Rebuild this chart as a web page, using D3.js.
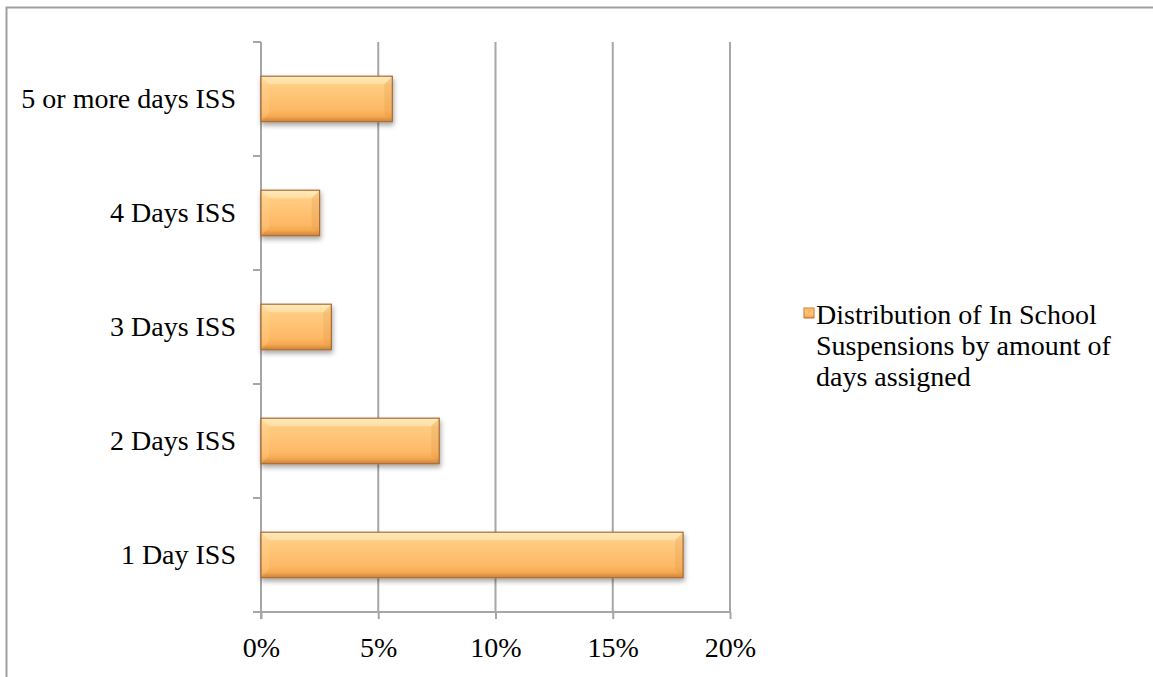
<!DOCTYPE html>
<html><head><meta charset="utf-8">
<script src="https://cdn.jsdelivr.net/npm/d3@7"></script>
<style>body{margin:0;background:#fff}svg{display:block}text{font-family:"Liberation Serif",serif;fill:#000}</style>
</head><body>
<script>
const categories = ["1 Day ISS","2 Days ISS","3 Days ISS","4 Days ISS","5 or more days ISS"];
const values = [0.18, 0.076, 0.030, 0.025, 0.056];
const xTicks = [0, 0.05, 0.10, 0.15, 0.20];
const legendLines = ["Distribution of In School","Suspensions by amount of","days assigned"];

const FONT = "Liberation Serif", FS = 28;
const W = 1153, H = 677;
const svg = d3.select("body").append("svg").attr("width", W).attr("height", H);
const defs = svg.append("defs");
const g1 = defs.append("linearGradient").attr("id","barg").attr("x1",0).attr("y1",0).attr("x2",0).attr("y2",1);
g1.append("stop").attr("offset","0").attr("stop-color","#ffe8b0");
g1.append("stop").attr("offset","0.2").attr("stop-color","#ffcc82");
g1.append("stop").attr("offset","0.75").attr("stop-color","#fdb865");
g1.append("stop").attr("offset","0.88").attr("stop-color","#f6a94f");
g1.append("stop").attr("offset","1").attr("stop-color","#c8823e");
const f = defs.append("filter").attr("id","sh").attr("x","-10%").attr("y","-20%").attr("width","130%").attr("height","160%");
f.append("feDropShadow").attr("dx",1).attr("dy",3).attr("stdDeviation",2.5).attr("flood-color","#000").attr("flood-opacity",0.35);

svg.append("path").attr("d","M6.5,677 V7.5 H1153").attr("fill","none").attr("stroke","#a0a0a0").attr("stroke-width",2);

const x = d3.scaleLinear().domain([0,0.20]).range([261,730]);
const y = d3.scaleBand().domain(categories.slice().reverse()).range([42,612]).paddingInner(0.6).paddingOuter(0.3);

svg.append("g").selectAll("line").data(xTicks.slice(1)).join("line")
  .attr("x1",d=>x(d)).attr("x2",d=>x(d)).attr("y1",42).attr("y2",612)
  .attr("stroke","#a6a6a6").attr("stroke-width",2);

const xa = svg.append("g").attr("transform","translate(0,612)")
  .call(d3.axisBottom(x).tickValues(xTicks).tickFormat(d3.format(".0%")).tickSize(7));
xa.select(".domain").remove();
xa.append("line").attr("x1",253).attr("x2",x(0.20)).attr("stroke","#a6a6a6").attr("stroke-width",2);
xa.selectAll(".tick line").attr("stroke","#a6a6a6").attr("stroke-width",2);
xa.selectAll("text").attr("font-size",FS).attr("font-family",FONT).attr("dy",0).attr("y",45);

const yEdges = d3.range(categories.length+1).map(i=>42 + i*(570/categories.length));
svg.append("line").attr("x1",261).attr("x2",261).attr("y1",42).attr("y2",619).attr("stroke","#a6a6a6").attr("stroke-width",2);
svg.append("g").selectAll("line").data(yEdges).join("line")
  .attr("x1",253).attr("x2",261).attr("y1",d=>d).attr("y2",d=>d).attr("stroke","#a6a6a6").attr("stroke-width",2);
const ya = svg.append("g").attr("transform","translate(261,0)")
  .call(d3.axisLeft(y).tickSize(0).tickPadding(25));
ya.select(".domain").remove();
ya.selectAll("text").attr("font-size",FS).attr("font-family",FONT);

const bars = svg.append("g").selectAll("g").data(categories.map((c,i)=>({c,v:values[i]}))).join("g")
  .attr("filter","url(#sh)");
bars.append("rect").attr("x",x(0)).attr("y",d=>y(d.c)).attr("width",d=>x(d.v)-x(0)).attr("height",y.bandwidth())
  .attr("fill","url(#barg)");
const b = 8;
bars.append("path").attr("d",d=>{const x0=x(0),x1=x(d.v),y0=y(d.c);
  return `M${x0},${y0} L${x1},${y0} L${x1-b},${y0+b} L${x0+b},${y0+b} Z`;}).attr("fill","#fff3d0").attr("opacity",0.35);
bars.append("path").attr("d",d=>{const x0=x(0),y0=y(d.c),y1=y0+y.bandwidth();
  return `M${x0},${y0} L${x0+b},${y0+b} L${x0+b},${y1-b} L${x0},${y1} Z`;}).attr("fill","#ffd99a").attr("opacity",0.25);
bars.append("path").attr("d",d=>{const x1=x(d.v),y0=y(d.c),y1=y0+y.bandwidth();
  return `M${x1},${y0} L${x1-b},${y0+b} L${x1-b},${y1-b} L${x1},${y1} Z`;}).attr("fill","#d88a3a").attr("opacity",0.2);
bars.append("rect").attr("x",x(0)).attr("y",d=>y(d.c)).attr("width",d=>x(d.v)-x(0)).attr("height",y.bandwidth())
  .attr("fill","none").attr("stroke","#a86b34").attr("stroke-width",1.2);

const lg = svg.append("g").attr("transform","translate(804,308)");
lg.append("rect").attr("width",10).attr("height",10).attr("fill","url(#barg)").attr("stroke","#b9763a");
lg.append("path").attr("d","M0,0 L10,0 L5,5.5 Z").attr("fill","#f5a848").attr("opacity",0.6);
lg.selectAll("text").data(legendLines).join("text")
  .attr("x",12).attr("y",(d,i)=>16 + i*31).attr("font-size",FS).attr("font-family",FONT).text(d=>d);
</script>
</body></html>
